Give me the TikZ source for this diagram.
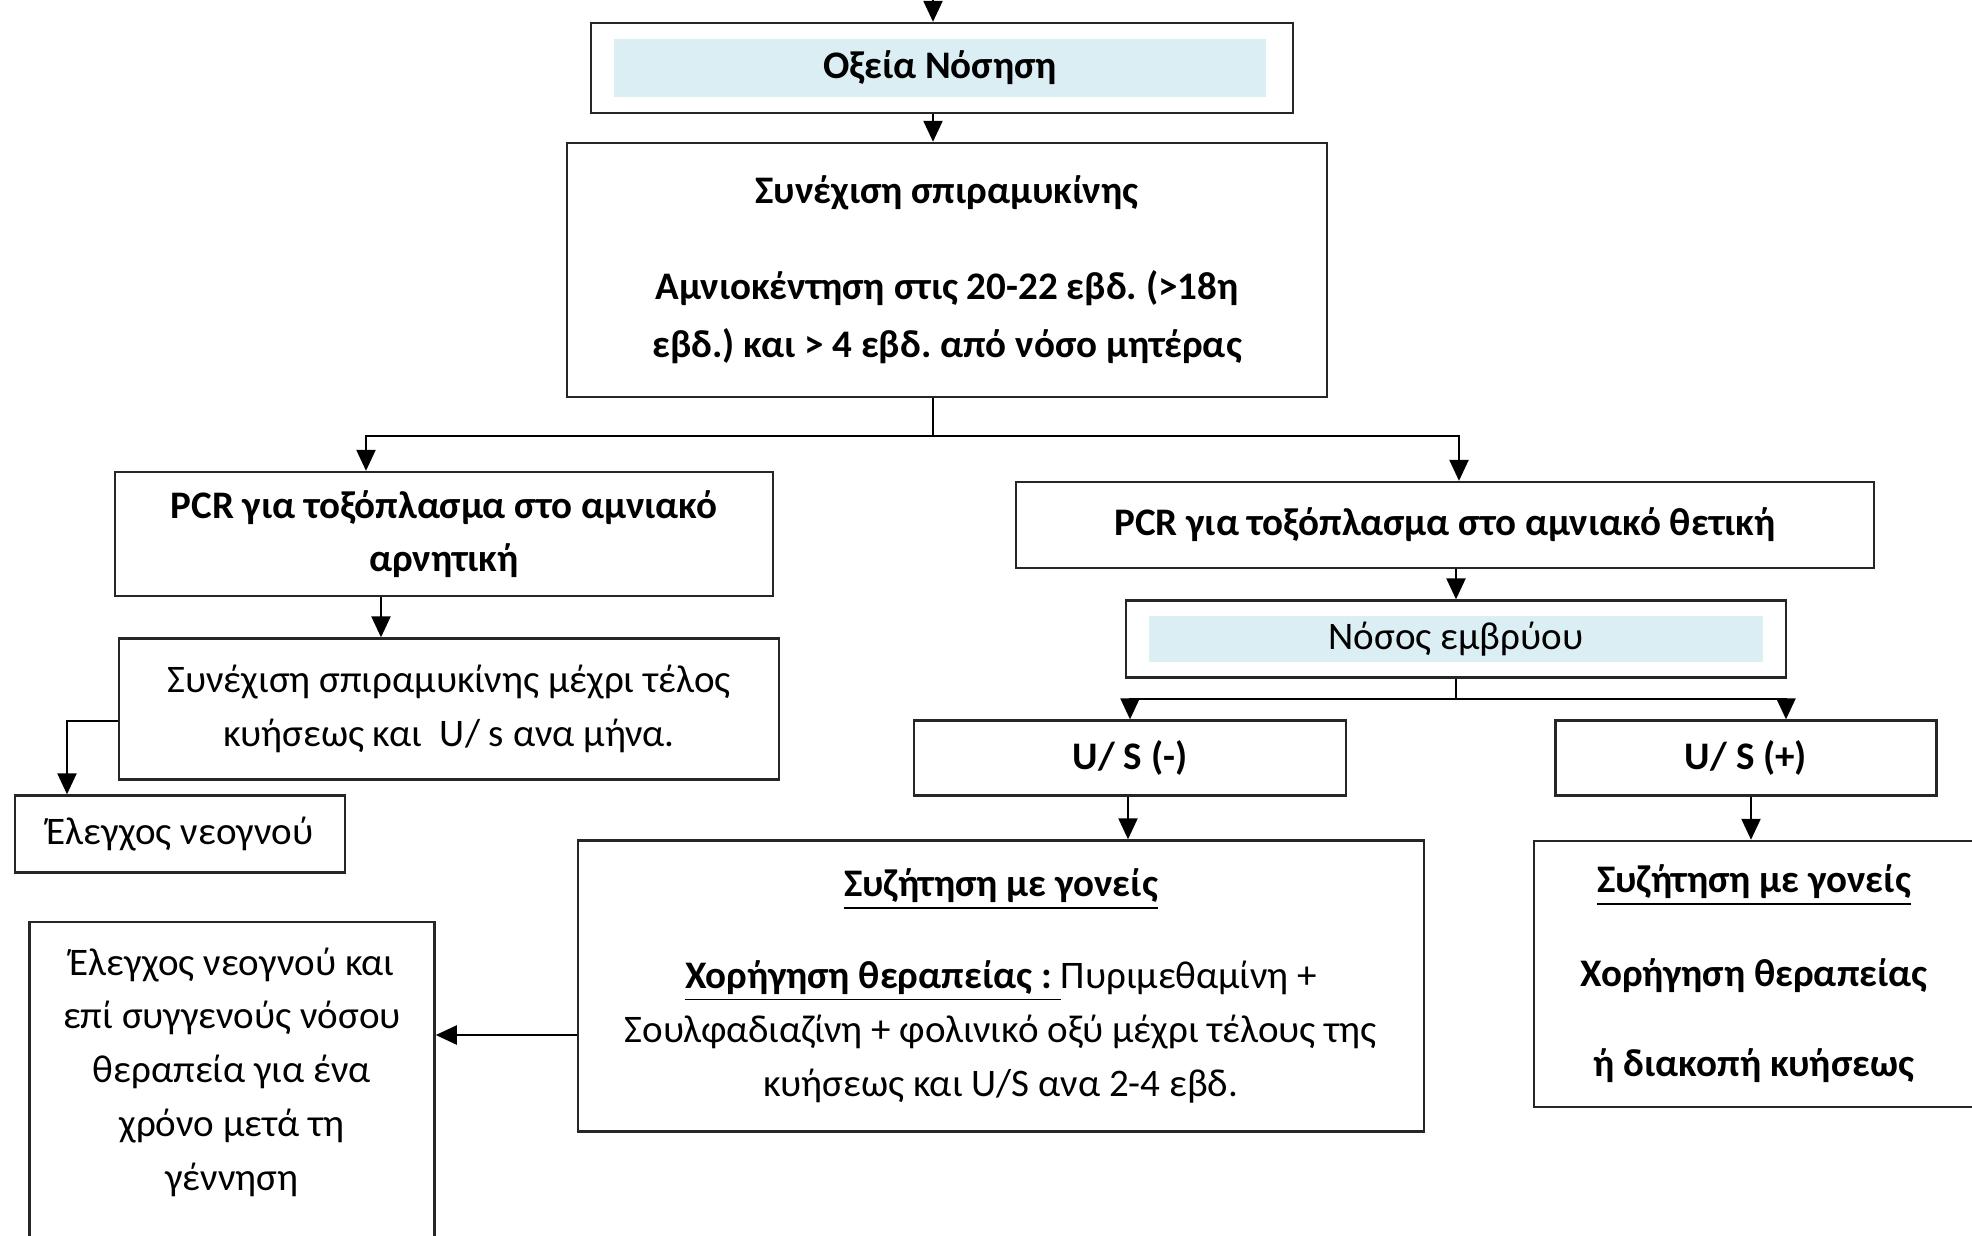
\documentclass[tikz,border=0pt]{standalone}
\usepackage{fontspec}
\setmainfont{Carlito}
\usetikzlibrary{arrows.meta}
\definecolor{shadeBlue}{HTML}{DAEEF3}
\frenchspacing

\begin{document}
\begin{tikzpicture}[x=0.01cm, y=-0.01cm,
	flowBox/.style={rectangle, draw=black!85, line width=0.65pt, align=center, inner sep=0pt},
	shadeBox/.style={rectangle, fill=shadeBlue, inner sep=0pt},
	flowArrow/.style={-{Triangle[length=0.21cm, width=0.19cm]}, line width=0.65pt},
	flowLine/.style={line width=0.65pt},
	boldText/.style={font=\fontsize{11.1}{16.5}\selectfont\bfseries},
	plainText/.style={font=\fontsize{11.1}{15.3}\selectfont}]

	\useasboundingbox (0,0) rectangle (1972,1235);
	\clip (0,0) rectangle (1972,1235);

	% draw top boxes
	\node[flowBox, minimum width=7.01cm, minimum height=0.90cm](acuteBox) at (942,68){};
	\node[shadeBox, boldText, minimum width=6.51cm, minimum height=0.57cm](acuteShade) at (940,68){Οξεία Νόσηση};
	\node[flowBox, boldText, minimum width=7.60cm, minimum height=2.54cm](spiraBox) at (947,270){Συνέχιση σπιραμυκίνης\\[0.38cm]Αμνιοκέντηση στις 20-22 εβδ. (>18η\\εβδ.) και > 4 εβδ. από νόσο μητέρας};

	% draw negative branch boxes
	\node[flowBox, boldText, minimum width=6.57cm, minimum height=1.24cm](negBox) at (444,534){PCR για τοξόπλασμα στο αμνιακό\\[-0.05cm]αρνητική};
	\node[flowBox, plainText, minimum width=6.60cm, minimum height=1.41cm](negFollowBox) at (449,709){Συνέχιση σπιραμυκίνης μέχρι τέλος\\κυήσεως και~ U/ s ανα μήνα.};
	\node[flowBox, plainText, minimum width=3.30cm, minimum height=0.77cm](newbornBox) at (180,834){Έλεγχος νεογνού};

	% draw positive branch boxes
	\node[flowBox, boldText, minimum width=8.58cm, minimum height=0.86cm](posBox) at (1445,525){PCR για τοξόπλασμα στο αμνιακό θετική};
	\node[flowBox, minimum width=6.59cm, minimum height=0.77cm](fetusBox) at (1456,639){};
	\node[shadeBox, plainText, minimum width=6.13cm, minimum height=0.46cm](fetusShade) at (1456,639){Νόσος εμβρύου};
	\node[flowBox, boldText, minimum width=4.32cm, minimum height=0.75cm](usNegBox) at (1130,758){U/ S (-)};
	\node[flowBox, boldText, minimum width=3.81cm, minimum height=0.75cm](usPosBox) at (1746,758){U/ S (+)};

	% draw bottom boxes
	\node[flowBox, plainText, minimum width=8.45cm, minimum height=2.91cm](treatBox) at (1001,986){\underline{\textbf{Συζήτηση με γονείς}}\\[0.38cm]\underline{\textbf{Χορήγηση θεραπείας :\ }}Πυριμεθαμίνη +\\Σουλφαδιαζίνη + φολινικό οξύ μέχρι τέλους της\\κυήσεως και U/S ανα 2-4 εβδ.};
	\node[flowBox, boldText, minimum width=4.40cm, minimum height=2.66cm](parentsBox) at (1754,974){\underline{Συζήτηση με γονείς}\\[0.36cm]Χορήγηση θεραπείας\\[0.32cm]ή διακοπή κυήσεως};
	\node[flowBox, minimum width=4.05cm, minimum height=3.30cm](followUpBox) at (232,1087){};
	\node[plainText, align=center](followUpText) at (232,1072){Έλεγχος νεογνού και\\επί συγγενούς νόσου\\θεραπεία για ένα\\χρόνο μετά τη\\γέννηση};

	% draw connectors
	\coordinate (mainAxis) at (933,0);
	\coordinate (topIn) at (933,-30);
	\draw[flowArrow] (topIn) -- (mainAxis |- acuteBox.north);
	\draw[flowArrow] (mainAxis |- acuteBox.south) -- (mainAxis |- spiraBox.north);
	\draw[flowLine] (mainAxis |- spiraBox.south) -- ++(0,38) coordinate (spiraSplit);
	\draw[flowArrow] (spiraSplit) -| (366,0 |- negBox.north);
	\draw[flowArrow] (spiraSplit) -| (1459,0 |- posBox.north);
	\draw[flowArrow] (381,0 |- negBox.south) -- (381,0 |- negFollowBox.north);
	\draw[flowArrow] (negFollowBox.west |- 0,721) -| (67,0 |- newbornBox.north);
	\draw[flowArrow] (fetusBox.north |- posBox.south) -- (fetusBox.north);
	\draw[flowLine] (fetusBox.south) -- ++(0,20) coordinate (fetusSplit);
	\draw[flowArrow] (fetusSplit) -| (usNegBox.north);
	\draw[flowArrow] (fetusSplit) -| (1786,0 |- usPosBox.north);
	\draw[flowArrow] (1128,0 |- usNegBox.south) -- (1128,0 |- treatBox.north);
	\draw[flowArrow] (1751,0 |- usPosBox.south) -- (1751,0 |- parentsBox.north);
	\draw[flowArrow] (treatBox.west |- 0,1035) -- (followUpBox.east |- 0,1035);
\end{tikzpicture}
\end{document}
